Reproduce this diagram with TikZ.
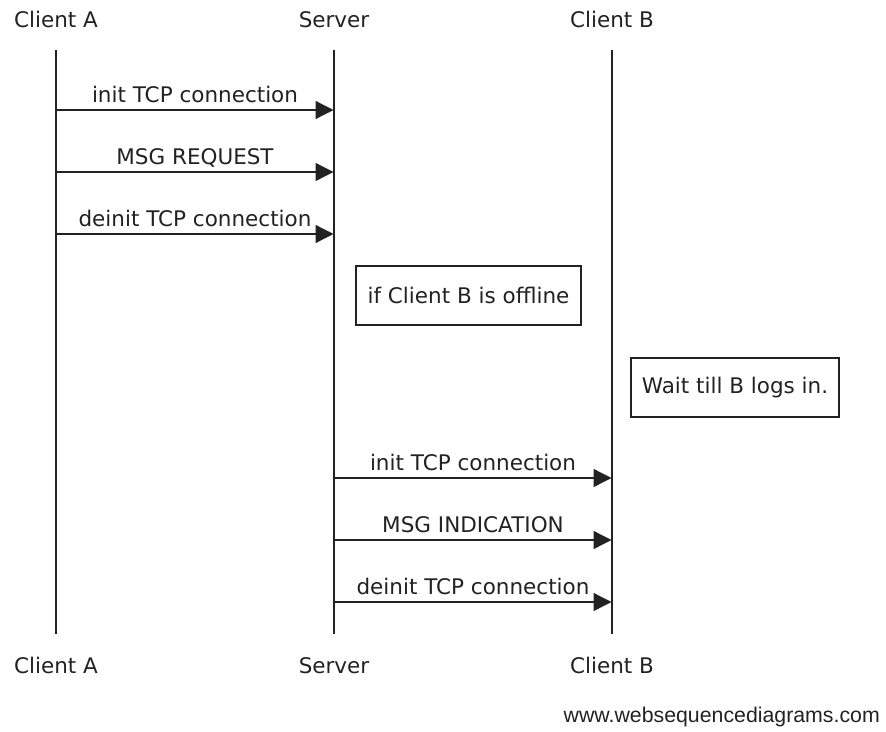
\documentclass[tikz,border=0pt]{standalone}
\usepackage{fontspec}
\setmainfont{DejaVu Sans}
\newfontfamily\wmfont{Liberation Sans}
\usetikzlibrary{arrows.meta}
\definecolor{ink}{HTML}{222222}
\begin{document}
\begin{tikzpicture}[x=1pt,y=-1pt,
  every node/.style={text=ink,font=\fontsize{21.5}{25}\selectfont,inner sep=0pt},
  life/.style={draw=ink,line width=1.3pt},
  msg/.style={draw=ink,line width=1.3pt,-{Triangle[length=18pt,width=18pt]},shorten >=0.5pt},
  lbl/.style={anchor=base},
  notebox/.style={draw=ink,line width=1.3pt,inner xsep=9pt,inner ysep=0pt,minimum height=59pt},
  head/.style={anchor=base}]
\useasboundingbox (0,0) rectangle (886,731);
% heads and feet
\node[head] (hA) at (56,27) {Client A};
\node[head] (hS) at (334,27) {Server};
\node[head] (hB) at (612,27) {Client B};
\node[head] (fA) at (56,673) {Client A};
\node[head] (fS) at (334,673) {Server};
\node[head] (fB) at (612,673) {Client B};
% lifelines
\coordinate (At) at (56,50);  \coordinate (Ab) at (56,634);
\coordinate (St) at (334,50); \coordinate (Sb) at (334,634);
\coordinate (Bt) at (612,50); \coordinate (Bb) at (612,634);
\draw[life] (At) -- (Ab);
\draw[life] (St) -- (Sb);
\draw[life] (Bt) -- (Bb);
% messages A -> Server
\coordinate (a1) at (56,110); \coordinate (s1) at (334,110);
\coordinate (a2) at (56,172); \coordinate (s2) at (334,172);
\coordinate (a3) at (56,234); \coordinate (s3) at (334,234);
\draw[msg] (a1) -- (s1);
\draw[msg] (a2) -- (s2);
\draw[msg] (a3) -- (s3);
\node[lbl] (l1) at (195,102) {init TCP connection};
\node[lbl] (l2) at (195,164) {MSG REQUEST};
\node[lbl] (l3) at (195,226) {deinit TCP connection};
% notes
\node[notebox,minimum width=225pt] (n1) at (468.5,295.5) {if Client B is offline};
\node[notebox,minimum width=208pt] (n2) at (735,387.5) {Wait till B logs in.};
% messages Server -> B
\coordinate (s4) at (334,478); \coordinate (b4) at (612,478);
\coordinate (s5) at (334,540); \coordinate (b5) at (612,540);
\coordinate (s6) at (334,602); \coordinate (b6) at (612,602);
\draw[msg] (s4) -- (b4);
\draw[msg] (s5) -- (b5);
\draw[msg] (s6) -- (b6);
\node[lbl] (l4) at (473,470) {init TCP connection};
\node[lbl] (l5) at (473,532) {MSG INDICATION};
\node[lbl] (l6) at (473,594) {deinit TCP connection};
% watermark
\node[anchor=base east,font=\wmfont\fontsize{21.3}{25}\selectfont] (wm) at (880,722) {www.websequencediagrams.com};
\end{tikzpicture}
\end{document}
